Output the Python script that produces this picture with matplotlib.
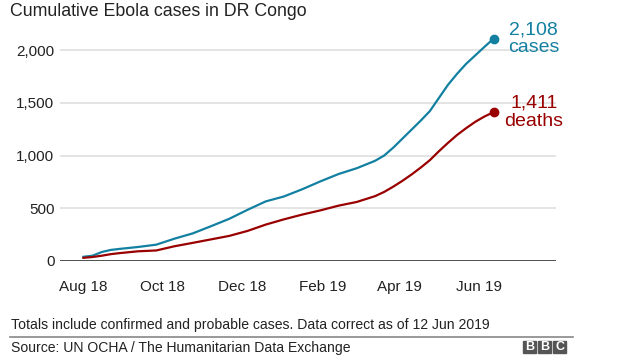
import datetime as dt

import matplotlib
matplotlib.use('Agg')
import matplotlib.dates as mdates
import matplotlib.pyplot as plt
from matplotlib.patches import Rectangle
from matplotlib.ticker import FuncFormatter

plt.rcParams['font.family'] = ['Liberation Sans', 'DejaVu Sans']

# Data (roughly fortnightly, weekly near the bends)
start_date = dt.date(2018, 8, 1)
day_offsets = [0, 7, 14, 21, 28, 42, 56, 70, 84, 98, 112, 126, 140, 154, 168, 182,
               196, 210, 224, 231, 238, 245, 252, 259, 266, 273, 280, 287, 294,
               301, 308, 315]
cases  = [40, 50, 85, 105, 115, 133, 155, 212, 262, 330, 400, 485, 565, 612, 680, 755,
          825, 880, 950, 1000, 1075, 1160, 1245, 1330, 1420, 1545, 1670, 1775, 1870,
          1950, 2030, 2108]
deaths = [30, 38, 50, 65, 75, 92, 100, 140, 172, 205, 238, 285, 345, 395, 440, 480,
          525, 560, 615, 655, 705, 760, 820, 885, 955, 1040, 1120, 1195, 1260,
          1320, 1370, 1411]
dates = [start_date + dt.timedelta(days=d) for d in day_offsets]

tick_dates  = [dt.date(2018, 8, 1), dt.date(2018, 10, 1), dt.date(2018, 12, 1),
               dt.date(2019, 2, 1), dt.date(2019, 4, 1), dt.date(2019, 6, 1)]
tick_labels = ['Aug 18', 'Oct 18', 'Dec 18', 'Feb 19', 'Apr 19', 'Jun 19']
y_ticks     = [0, 500, 1000, 1500, 2000]

case_colour  = '#1380A1'
death_colour = '#990000'
text_colour  = '#222222'

fig = plt.figure(figsize=(6.4, 3.6), dpi=100)
ax = fig.add_axes([60 / 640, 1 - 261 / 360, 496 / 640, 232 / 360])

ax.set_ylim(0, 2200)
ax.set_xlim(start_date - dt.timedelta(days=18), start_date + dt.timedelta(days=363))

# Gridlines
ax.set_axisbelow(True)
ax.set_yticks(y_ticks)
ax.yaxis.grid(True, color='#dddddd', linewidth=1.1)
ax.yaxis.set_major_formatter(FuncFormatter(lambda v, p: f'{int(v):,}'))
ax.axhline(0, color='#222222', linewidth=1.8, zorder=3)

for side in ['top', 'right', 'left', 'bottom']:
    ax.spines[side].set_visible(False)

ax.set_xticks([mdates.date2num(d) for d in tick_dates])
ax.set_xticklabels(tick_labels)
ax.tick_params(axis='x', length=0, pad=14, labelsize=11, labelcolor=text_colour)
ax.tick_params(axis='y', length=0, pad=4, labelsize=11, labelcolor=text_colour)

# Lines
ax.plot(dates, cases, color=case_colour, linewidth=1.6, zorder=4)
ax.plot(dates, deaths, color=death_colour, linewidth=1.6, zorder=4)
ax.plot(dates[-1], cases[-1], 'o', color=case_colour, markersize=6, zorder=5, clip_on=False)
ax.plot(dates[-1], deaths[-1], 'o', color=death_colour, markersize=6, zorder=5, clip_on=False)

ax.annotate(f'{cases[-1]:,}\ncases', xy=(dates[-1], cases[-1]),
            xytext=(29, 0), textcoords='offset points',
            ha='center', va='center', fontsize=14, color=case_colour,
            linespacing=1.05)
ax.annotate(f'{deaths[-1]:,}\ndeaths', xy=(dates[-1], deaths[-1]),
            xytext=(29, 0), textcoords='offset points',
            ha='center', va='center', fontsize=14, color=death_colour,
            linespacing=1.05)

# Title and footer
fig.text(10 / 640, 1 - 11 / 360, 'Cumulative Ebola cases in DR Congo',
         fontsize=12.8, color=text_colour, ha='left', va='center')
fig.text(11 / 640, 1 - 325 / 360,
         'Totals include confirmed and probable cases. Data correct as of 12 Jun 2019',
         fontsize=10.1, color=text_colour, ha='left', va='center')
fig.add_artist(plt.Line2D([10 / 640, 573 / 640], [1 - 337 / 360, 1 - 337 / 360],
                          color='#888888', linewidth=1.2))
fig.text(11 / 640, 1 - 348 / 360, 'Source: UN OCHA / The Humanitarian Data Exchange',
         fontsize=10.1, color=text_colour, ha='left', va='center')

# BBC logo blocks
for i, letter in enumerate('BBC'):
    x0 = 523 + i * 15
    fig.add_artist(Rectangle((x0 / 640, 1 - 353 / 360), 13 / 640, 12 / 360,
                             transform=fig.transFigure, color='#555555'))
    fig.text((x0 + 6.5) / 640, 1 - 347 / 360, letter, fontsize=9, fontweight='bold',
             color='white', ha='center', va='center')

fig.savefig('out.png', dpi=100)
